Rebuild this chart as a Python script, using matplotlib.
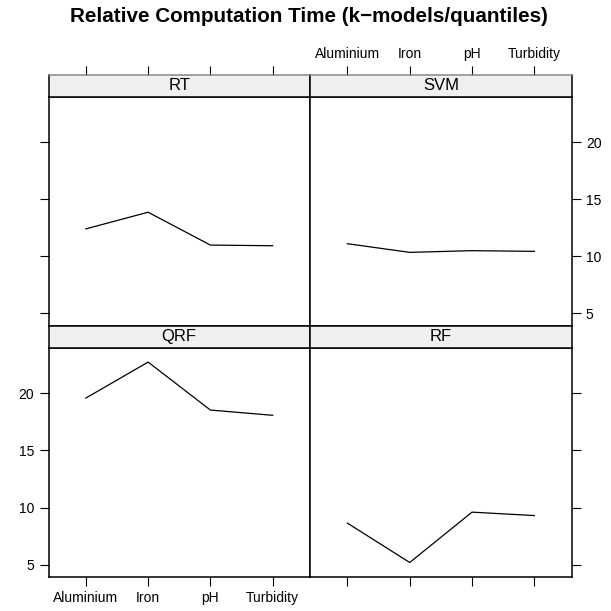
#!/usr/bin/env python
"""
Relative computation time, lattice-style 2x2 panel plot.

Output: out.png (611x611 px)
"""

import matplotlib
matplotlib.use('Agg')
import matplotlib.pyplot as plt

plt.rcParams['font.family'] = ['Liberation Sans', 'DejaVu Sans']

# data
variables = ['Aluminium', 'Iron', 'pH', 'Turbidity']
rt_time = [12.41, 13.87, 10.99, 10.93]
svm_time = [11.11, 10.35, 10.50, 10.44]
qrf_time = [19.59, 22.74, 18.54, 18.08]
rf_time = [8.64, 5.19, 9.60, 9.30]
y_ticks = [5, 10, 15, 20]

TITLE = 'Relative Computation Time (k\u2212models/quantiles)'

FIG_PX = 611
STRIP_COLOR = '#f0f0f0'
TICK_LEN = 6.2
SPINE_LW = 1.1


def px_rect(left, top, right, bottom):
    """pixel box (from top-left) -> figure fraction rect"""
    return [left / FIG_PX, 1 - bottom / FIG_PX,
            (right - left) / FIG_PX, (bottom - top) / FIG_PX]


def draw_panel(fig, col, row, name, values, ticks):
    """
    One lattice panel with its strip on top.

    ticks: dict with keys left/right/top/bottom -> None, 'tick' or 'label'
    """
    cols = [(48.5, 310.0), (310.0, 571.7)]
    rows = [(75.3, 96.7, 325.7), (326.0, 347.7, 577.0)]
    x0, x1 = cols[col]
    s_top, p_top, p_bot = rows[row]

    x = list(range(1, len(variables) + 1))
    xlim = (0.4, 4.6)

    ax = fig.add_axes(px_rect(x0, p_top, x1, p_bot))
    ax.plot(x, values, color='black', lw=0.9)
    ax.set_xlim(*xlim)
    ax.set_ylim(3.92, 24.0)

    # y ticks
    ax.set_yticks(y_ticks)
    ax.set_yticklabels([str(t) for t in y_ticks])
    ax.tick_params(axis='y', direction='out', length=TICK_LEN, width=0.8,
                   labelsize=10, pad=4,
                   left=ticks['left'] is not None,
                   labelleft=ticks['left'] == 'label',
                   right=ticks['right'] is not None,
                   labelright=ticks['right'] == 'label')

    # bottom x ticks
    ax.set_xticks(x)
    ax.set_xticklabels(variables)
    ax.tick_params(axis='x', direction='out', length=TICK_LEN, width=0.8,
                   labelsize=10, pad=4, top=False, labeltop=False,
                   bottom=ticks['bottom'] is not None,
                   labelbottom=ticks['bottom'] == 'label')

    for sp in ax.spines.values():
        sp.set_linewidth(SPINE_LW)

    # strip (the x ticks of the top row sit above it)
    ax_s = fig.add_axes(px_rect(x0, s_top, x1, p_top))
    ax_s.set_facecolor(STRIP_COLOR)
    ax_s.set_xlim(*xlim)
    ax_s.set_ylim(0, 1)
    ax_s.set_yticks([])
    ax_s.set_xticks(x)
    ax_s.set_xticklabels(variables)
    ax_s.tick_params(axis='x', direction='out', length=TICK_LEN, width=0.8,
                     labelsize=10, pad=4, bottom=False, labelbottom=False,
                     top=ticks['top'] is not None,
                     labeltop=ticks['top'] == 'label')
    ax_s.text(0.5, 0.5, name, transform=ax_s.transAxes,
              ha='center', va='center', fontsize=12)
    for sp in ax_s.spines.values():
        sp.set_linewidth(SPINE_LW)
    if row == 0:
        # outer strip edge is drawn lighter than the panel border
        ax_s.spines['top'].set_color('#888888')

    return ax


def main():
    fig = plt.figure(figsize=(FIG_PX / 100, FIG_PX / 100), dpi=100)
    fig.patch.set_facecolor('white')

    draw_panel(fig, 0, 0, 'RT', rt_time,
               dict(left='tick', right=None, top='tick', bottom=None))
    draw_panel(fig, 1, 0, 'SVM', svm_time,
               dict(left=None, right='label', top='label', bottom=None))
    draw_panel(fig, 0, 1, 'QRF', qrf_time,
               dict(left='label', right=None, top=None, bottom='label'))
    draw_panel(fig, 1, 1, 'RF', rf_time,
               dict(left=None, right='tick', top=None, bottom='tick'))

    fig.text(309 / FIG_PX, 1 - 16 / FIG_PX, TITLE, ha='center', va='center',
             fontsize=14.9, fontweight='bold')

    fig.savefig('out.png', dpi=100, facecolor='white')


if __name__ == '__main__':
    main()
